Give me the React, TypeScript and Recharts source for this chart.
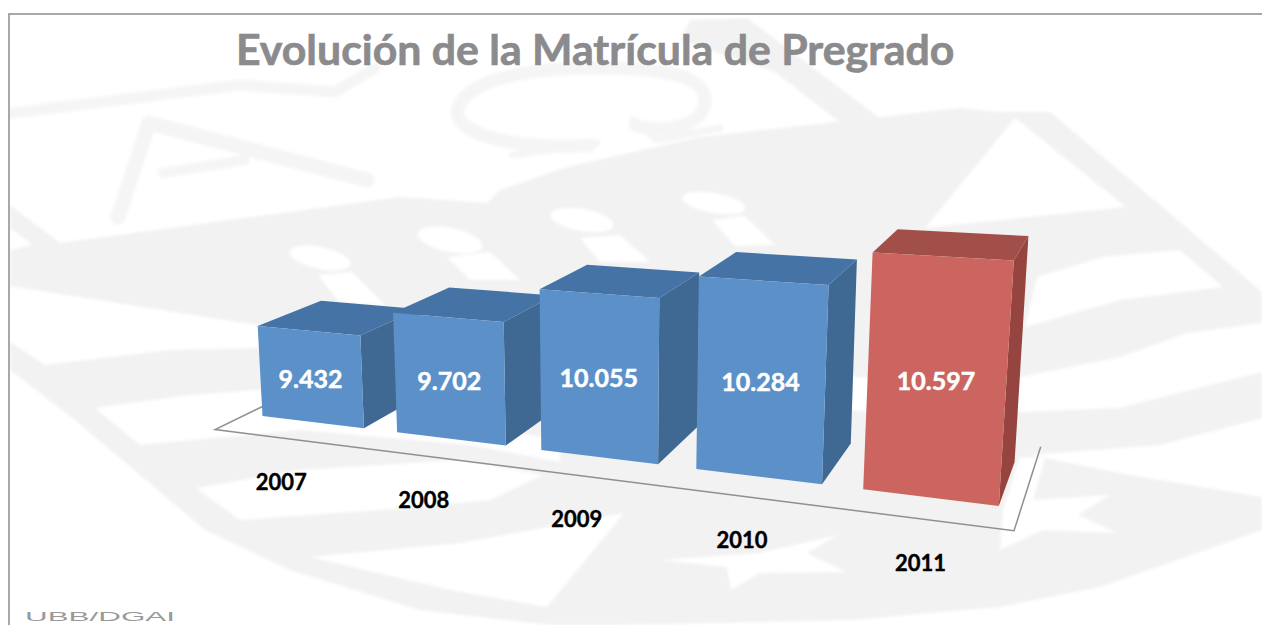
import { Bar, BarChart, Cell, LabelList, XAxis, YAxis } from 'recharts';

const YEARS = ['2007', '2008', '2009', '2010', '2011'];
const ENROLMENT = [9432, 9702, 10055, 10284, 10597];
const HIGHLIGHT_YEAR = '2011';

const chartData = YEARS.map((year, i) => ({ year, enrolment: ENROLMENT[i] }));

const WIDTH = 1262;
const HEIGHT = 625;
const PLOT = { left: 100, top: 100, width: 1000, height: 400 };

// Front plane of the 3D chart, plot rectangle corners as they land on screen.
const QUAD = [[233.6, 177.5], [1040, 213.5], [1021, 508.6], [247, 414]];
const DEPTH_VANISH = [1199, -50];

const BLUE = { front: '#5b90c8', top: '#4573a5', side: '#3f6892' };
const RED = { front: '#cc655f', top: '#a24f49', side: '#96443f' };

const CREST_GREY = '#f2f2f2';
const CREST_LINE = '#f5f5f5';

type Pt = [number, number];

function buildProjection() {
    const [[x0, y0], [x1, y1], [x2, y2], [x3, y3]] = QUAD;
    const dx1 = x1 - x2, dx2 = x3 - x2, sx = x0 - x1 + x2 - x3;
    const dy1 = y1 - y2, dy2 = y3 - y2, sy = y0 - y1 + y2 - y3;
    const den = dx1 * dy2 - dx2 * dy1;
    const g = (sx * dy2 - dx2 * sy) / den;
    const h = (dx1 * sy - sx * dy1) / den;
    const a = x1 - x0 + g * x1, b = x3 - x0 + h * x3;
    const d = y1 - y0 + g * y1, e = y3 - y0 + h * y3;
    return (px: number, py: number): Pt => {
        let u = (px - PLOT.left) / PLOT.width;
        // the picture's bars spread a bit less than a pure perspective would
        u += 0.045 * u * (1 - u);
        const v = (py - PLOT.top) / PLOT.height;
        const w = g * u + h * v + 1;
        return [(a * u + b * v + x0) / w, (d * u + e * v + y0) / w];
    };
}
const project = buildProjection();

// How far one bar depth moves a point towards the vanishing point.
function depthFraction(px: number) {
    return 0.067 + 0.012 * ((px - PLOT.left) / PLOT.width);
}

function pushBack(p: Pt, px: number, amount = 1): Pt {
    const f = depthFraction(px) * amount;
    return [p[0] + (DEPTH_VANISH[0] - p[0]) * f, p[1] + (DEPTH_VANISH[1] - p[1]) * f];
}

const toPoints = (pts: Pt[]) => pts.map((p) => `${p[0].toFixed(1)},${p[1].toFixed(1)}`).join(' ');

function BarBox(props: any) {
    const { x, y, width, height, payload } = props;
    const palette = payload.year === HIGHLIGHT_YEAR ? RED : BLUE;
    const right = x + width;
    const bottom = y + height;
    const ftl = project(x, y);
    const ftr = project(right, y);
    const fbr = project(right, bottom);
    const fbl = project(x, bottom);
    const btl = pushBack(ftl, x);
    const btr = pushBack(ftr, right);
    const bbr = pushBack(fbr, right);
    return (
        <g>
            <polygon points={toPoints([ftr, fbr, bbr, btr])} fill={palette.side} />
            <polygon points={toPoints([ftl, ftr, btr, btl])} fill={palette.top} />
            <polygon points={toPoints([ftl, ftr, fbr, fbl])} fill={palette.front} />
        </g>
    );
}

function BarValue(props: any) {
    const { x, y, width, height, value } = props;
    const [cx, cy] = project(x + width / 2, y + height / 2);
    return (
        <text
            x={cx} y={cy + 11} textAnchor="middle" fill="#ffffff" stroke="#ffffff" strokeWidth={0.5}
            fontFamily="Lato" fontWeight={700} fontSize={25}
        >
            {Number(value).toLocaleString('de-DE')}
        </text>
    );
}

function YearTick(props: any) {
    const { x, payload } = props;
    const baseY = PLOT.top + PLOT.height;
    const [cx, cy] = pushBack(project(x, baseY), x, -0.55);
    return (
        <text
            x={cx + 2} y={cy + 50} textAnchor="middle" fill="#000000" stroke="#000000" strokeWidth={0.4}
            fontFamily="Lato" fontWeight={700} fontSize={22}
        >
            {payload.value}
        </text>
    );
}

function Floor() {
    const baseY = PLOT.top + PLOT.height;
    const l = PLOT.left;
    const r = PLOT.left + PLOT.width;
    const pts = [
        pushBack(project(l, baseY), l, 1.47),
        pushBack(project(l, baseY), l, -0.5),
        pushBack(project(r, baseY), r, -0.5),
        pushBack(project(r, baseY), r, 1.4),
    ];
    return <polyline points={toPoints(pts)} fill="none" stroke="#8f8f8f" strokeWidth={1.5} />;
}

// Faint crest behind the chart, traced by eye.
function Backdrop() {
    return (
        <svg width={WIDTH} height={HEIGHT} style={{ position: 'absolute', left: 0, top: 0 }}>
            <defs>
                <filter id="soft" x="0" y="0" width="100%" height="100%">
                    <feGaussianBlur stdDeviation="1.6" />
                </filter>
            </defs>
            <rect width={WIDTH} height={HEIGHT} fill="#ffffff" />
            <g filter="url(#soft)">
                <g fill={CREST_GREY}>
                    <polygon points="10,205 60,243 400,197 487,203 500,190 567,167 700,137 960,108 1000,112 1050,112 1160,205 1262,292 1262,323 1187,333 1120,357 1020,377 870,378 257,325 130,305 10,286" />
                    <polygon points="10,342 45,365 170,350 255,348 870,412 1025,412 1120,408 1190,390 1262,372 1262,530 1100,587 1000,607 850,620 620,625 550,625 420,610 290,570 205,530 75,420 10,370" />
                    <polygon points="690,20 747,18 886,123 850,130 775,72 680,40" />
                </g>
                <g fill="none" stroke={CREST_LINE} strokeLinejoin="round" strokeLinecap="round">
                    <polyline points="12,113 240,85 335,92 375,68" strokeWidth={11} />
                    <polyline points="118,217 149,123 367,180" strokeWidth={15} />
                    <polyline points="163,173 245,160" strokeWidth={10} />
                    <path d="M590,145 C540,150 450,140 458,108 C470,75 540,68 600,68 C660,68 705,75 705,100 C705,125 665,135 635,125" strokeWidth={13} />
                    <polyline points="513,155 597,143" strokeWidth={7} />
                    <polyline points="633,120 657,140 720,128" strokeWidth={7} />
                </g>
                <g fill="#ffffff">
                    <polygon points="1015,118 1126,207 925,228" />
                    <polygon points="1103,257 1180,250 1223,287 1120,300 1025,327 1037,277" />
                    <polygon points="10,228 33,245 10,250" />
                    <polygon points="95,408 190,395 258,390 560,440 560,462 470,445 300,430 140,445" />
                    <polygon points="196,488 300,470 460,460 543,475 490,500 408,508 240,520" />
                    <polygon points="310,557 461,543 624,513 547,607 450,590" />
                    <polygon points="660,560 760,553 838,535 807,553 846,572 759,573 731,590 727,567" />
                    <polygon points="1030,455 1160,445 1262,418 1262,497 1130,475 1045,458" />
                    <polygon points="1020,457 1045,458 1033,500 1110,495 1078,515 1117,533 1043,530 1000,550 1003,510" />
                    <ellipse cx={320} cy={258} rx={31} ry={11} transform="rotate(12 320 258)" />
                    <ellipse cx={450} cy={240} rx={33} ry={12} transform="rotate(12 450 240)" />
                    <ellipse cx={582} cy={220} rx={32} ry={11} transform="rotate(10 582 220)" />
                    <ellipse cx={714} cy={203} rx={32} ry={10} transform="rotate(10 714 203)" />
                    <polygon points="318,275 352,272 385,305 340,303" />
                    <polygon points="447,257 490,252 520,280 470,280" />
                    <polygon points="580,238 620,235 650,262 600,262" />
                    <polygon points="712,220 745,216 775,245 735,246" />
                </g>
            </g>
            <line x1="9" y1="14" x2="9" y2="625" stroke="#a8a8a8" strokeWidth={2} />
            <line x1="8" y1="14" x2="1262" y2="14" stroke="#a8a8a8" strokeWidth={2} />
            <text x="25" y="621" fill="#9a9a9a" fontFamily="Liberation Sans" fontSize={12} textLength={150} lengthAdjust="spacingAndGlyphs">
                UBB/DGAI
            </text>
        </svg>
    );
}

export default function App() {
    return (
        <div style={{ position: 'absolute', left: 0, top: 0, width: WIDTH, height: HEIGHT, overflow: 'hidden' }}>
            <Backdrop />
            <div style={{ position: 'absolute', left: 0, top: 0 }}>
                <BarChart
                    width={WIDTH} height={HEIGHT} data={chartData} barCategoryGap="12%"
                    margin={{
                        top: PLOT.top,
                        left: PLOT.left,
                        right: WIDTH - PLOT.left - PLOT.width,
                        bottom: HEIGHT - PLOT.top - PLOT.height - 30,
                    }}
                >
                    <text
                        x={236} y={65} fill="#8b8b8d" stroke="#8b8b8d" strokeWidth={0.7}
                        fontFamily="Lato" fontWeight={700} fontSize={42.8}
                    >
                        Evolución de la Matrícula de Pregrado
                    </text>
                    <Floor />
                    <XAxis dataKey="year" height={30} axisLine={false} tickLine={false} tick={<YearTick />} interval={0} />
                    <YAxis hide domain={[8444, 11000]} />
                    <Bar dataKey="enrolment" shape={<BarBox />} isAnimationActive={false}>
                        {chartData.map((row) => (
                            <Cell key={row.year} fill={row.year === HIGHLIGHT_YEAR ? RED.front : BLUE.front} />
                        ))}
                        <LabelList dataKey="enrolment" content={<BarValue />} />
                    </Bar>
                </BarChart>
            </div>
        </div>
    );
}
